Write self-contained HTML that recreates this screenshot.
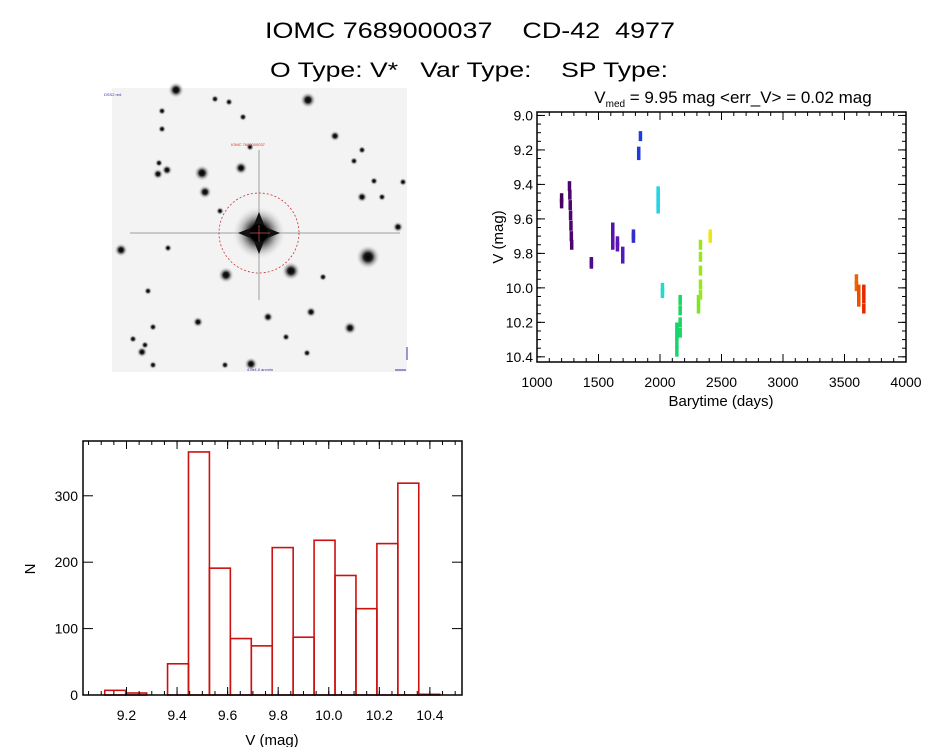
<!DOCTYPE html>
<html><head><meta charset="utf-8"><style>
html,body{margin:0;padding:0;background:#fff;}
svg{display:block;font-family:"Liberation Sans",sans-serif;}
text{white-space:pre;}
</style></head><body>
<svg id="fig" width="944" height="747" viewBox="0 0 944 747" xmlns="http://www.w3.org/2000/svg">
<text x="470" y="38" text-anchor="middle" font-size="22" textLength="410" lengthAdjust="spacingAndGlyphs">IOMC 7689000037    CD-42  4977</text>
<text x="469" y="77" text-anchor="middle" font-size="21" textLength="398" lengthAdjust="spacingAndGlyphs">O Type: V*   Var Type:    SP Type:</text>
<g id="img"></g>
<g id="lc"></g>
<g id="hist"></g>
</svg>
<script>
// ---- light curve data ----
const lcTimes = [1198,1198,1262,1265,1268,1271,1274,1277,1280,1440,1440,1614,1614,1614,1652,1652,1695,1695,1782,1782,1825,1825,1839,1983,1983,1983,1983,2018,2018,2135,2135,2135,2135,2162,2162,2162,2162,2311,2311,2327,2327,2327,2327,2327,2406,2406,3595,3595,3614,3614,3614,3655,3655,3655];
const lcMags  = [9.48,9.51,9.41,9.46,9.52,9.58,9.64,9.70,9.75,9.85,9.86,9.65,9.70,9.75,9.73,9.76,9.79,9.83,9.69,9.71,9.21,9.23,9.12,9.44,9.47,9.51,9.54,10.0,10.03,10.23,10.27,10.32,10.37,10.07,10.13,10.20,10.26,10.07,10.12,9.75,9.82,9.90,9.98,10.04,9.69,9.71,9.95,9.99,10.01,10.05,10.08,10.01,10.06,10.12];
const lcXTicks = [1000,1500,2000,2500,3000,3500,4000];
const lcYTicks = [9.0,9.2,9.4,9.6,9.8,10.0,10.2,10.4];
const lcYLabels = ["9.0","9.2","9.4","9.6","9.8","10.0","10.2","10.4"];
// ---- histogram data ----
const histStart = 9.114;
const histWidth = 0.0828;
const histCounts = [7,3,0,47,366,191,85,74,222,87,233,180,130,228,319,1];
const histXTicks = [9.2,9.4,9.6,9.8,10.0,10.2,10.4];
const histXLabels = ["9.2","9.4","9.6","9.8","10.0","10.2","10.4"];
const histYTicks = [0,100,200,300];

const NS="http://www.w3.org/2000/svg";
function mk(tag,attrs,parent,text){const e=document.createElementNS(NS,tag);for(const k in attrs)e.setAttribute(k,attrs[k]);if(text!==undefined)e.textContent=text;parent.appendChild(e);return e;}

// ---------- sky image ----------
(function(){
  const g=document.getElementById('img');
  const bg=mk('rect',{x:112,y:88,width:295,height:284,fill:'#f3f3f3'},g);
  
  
  const defs=mk('defs',{},g);
  const rg=mk('radialGradient',{id:'star'},defs);
  mk('stop',{offset:'0%','stop-color':'#000','stop-opacity':'1'},rg);
  mk('stop',{offset:'35%','stop-color':'#111','stop-opacity':'0.95'},rg);
  mk('stop',{offset:'70%','stop-color':'#777','stop-opacity':'0.4'},rg);
  mk('stop',{offset:'100%','stop-color':'#ccc','stop-opacity':'0'},rg);
  const stars=[[176,90,6],[215,99,3],[308,100,6],[229,102,3],[243,117,3],[162,111,3],[162,129,3],[335,136,4],[159,163,3],[158,174,4],[167,170,4],[202,173,6],[241,168,5],[205,192,5],[374,181,3],[354,161,3],[362,150,3],[382,197,3],[362,197,4],[403,182,3],[398,227,4],[121,250,5],[168,248,3],[226,275,6],[291,271,7],[368,257,9],[323,277,3],[148,291,3],[268,317,4],[311,312,4],[198,322,4],[153,327,3],[350,328,5],[145,345,3],[142,352,4],[286,337,3],[307,353,3],[251,364,5],[225,365,3],[153,365,3],[133,339,3],[220,211,3],[250,147,3]];
  stars.forEach(s=>{const c=mk('circle',{cx:s[0],cy:s[1],r:s[2]*1.3,fill:'url(#star)'},g);
    
    });
  mk('line',{x1:130,y1:233,x2:400,y2:233,stroke:'#bbb','stroke-width':1.5},g);
  mk('line',{x1:259,y1:150,x2:259,y2:300,stroke:'#bbb','stroke-width':1.5},g);
  const tgt=mk('circle',{cx:259,cy:233,r:26,fill:'url(#star)'},g);
  
  
  mk('path',{d:'M259 212 L265 227 L280 233 L265 239 L259 254 L253 239 L238 233 L253 227 Z',fill:'#111'},g);
  mk('circle',{cx:259,cy:233,r:9,fill:'#000'},g);
  const ring=mk('circle',{cx:259,cy:233,r:40,fill:'none',stroke:'#c33','stroke-width':0.8,'stroke-dasharray':'2,2'},g);
  
  
  mk('line',{x1:250,y1:233,x2:270,y2:233,stroke:'#c55','stroke-width':0.7},g);
  mk('line',{x1:259,y1:225,x2:259,y2:242,stroke:'#c55','stroke-width':0.7},g);
  mk('text',{x:248,y:146,'font-size':4,fill:'#c33','text-anchor':'middle'},g,'IOMC 7689000037');
  mk('text',{x:104,y:96,'font-size':4,fill:'#33a'},g,'DSS2 red');
  mk('text',{x:260,y:371,'font-size':4,fill:'#33a','text-anchor':'middle'},g,'4.0x4.0 arcmin');
  mk('line',{x1:395,y1:370,x2:406,y2:370,stroke:'#33a','stroke-width':1},g);
  mk('line',{x1:407,y1:347,x2:407,y2:360,stroke:'#33a','stroke-width':1},g);
})();

// ---------- light curve ----------
(function(){
  const g=document.getElementById('lc');
  const L=537,R=906,T=112,B=362;
  const x0=1000,x1=4000,y0=8.98,y1=10.43;
  const X=t=>L+(t-x0)/(x1-x0)*(R-L);
  const Y=v=>T+(v-y0)/(y1-y0)*(B-T);
  const tt=mk('text',{x:733,y:103,'font-size':17,'text-anchor':'middle'},g);
  
  
  mk('tspan',{},tt,'V');
  mk('tspan',{'font-size':10,dy:4},tt,'med');
  mk('tspan',{dy:-4},tt,' = 9.95 mag <err_V> = 0.02 mag');
  const cmap=t=>{const f=Math.min(1,Math.max(0,(t-1150)/(3700-1150)));
    const stops=[[0,[70,0,90]],[0.2,[90,20,180]],[0.27,[30,60,220]],[0.3,[20,140,230]],[0.33,[40,220,230]],[0.38,[20,210,120]],[0.44,[40,230,30]],[0.46,[150,230,30]],[0.49,[240,240,20]],[0.5,[240,190,40]],[0.95,[240,120,0]],[1,[220,0,0]]];
    for(let i=1;i<stops.length;i++){if(f<=stops[i][0]){const a=stops[i-1],b=stops[i];const u=(f-a[0])/(b[0]-a[0]);const c=a[1].map((v,k)=>Math.round(v+(b[1][k]-v)*u));return `rgb(${c})`;}}
    return 'rgb(220,0,0)';};
  lcTimes.forEach((t,i)=>{const r=mk('rect',{x:X(t)-1.5,y:Y(lcMags[i])-5,width:3.5,height:10,fill:cmap(t)},g);
    
    });
  const frame=mk('rect',{x:L,y:T,width:R-L,height:B-T,fill:'none',stroke:'#000','stroke-width':1.5},g);
  
  
  lcXTicks.forEach(t=>{const x=X(t);
    mk('line',{x1:x,y1:B,x2:x,y2:B-8,stroke:'#000'},g);mk('line',{x1:x,y1:T,x2:x,y2:T+8,stroke:'#000'},g);
    const l=mk('text',{x:x,y:B+25,'font-size':14,'text-anchor':'middle'},g,String(t));
    
    });
  for(let t=x0;t<=x1;t+=100){const x=X(t);mk('line',{x1:x,y1:B,x2:x,y2:B-4,stroke:'#000'},g);mk('line',{x1:x,y1:T,x2:x,y2:T+4,stroke:'#000'},g);}
  lcYTicks.forEach((v,i)=>{const y=Y(v);
    mk('line',{x1:L,y1:y,x2:L+8,y2:y,stroke:'#000'},g);mk('line',{x1:R,y1:y,x2:R-8,y2:y,stroke:'#000'},g);
    const l=mk('text',{x:L-4,y:y+5,'font-size':14,'text-anchor':'end'},g,lcYLabels[i]);
    
    });
  for(let v=9.0;v<=10.43;v+=0.05){const y=Y(v);mk('line',{x1:L,y1:y,x2:L+4,y2:y,stroke:'#000'},g);mk('line',{x1:R,y1:y,x2:R-4,y2:y,stroke:'#000'},g);}
  const xt=mk('text',{x:721,y:406,'font-size':15,'text-anchor':'middle'},g,'Barytime (days)');
  
  
  const yt=mk('text',{x:0,y:0,'font-size':15,'text-anchor':'middle',transform:'translate(503,237) rotate(-90)'},g,'V (mag)');
  
  
})();

// ---------- histogram ----------
(function(){
  const g=document.getElementById('hist');
  const L=83,R=462,T=441,B=695;
  const x0=9.028,x1=10.527,ymax=382.5;
  const X=v=>L+(v-x0)/(x1-x0)*(R-L);
  const Y=n=>B-n/ymax*(B-T);
  histCounts.forEach((n,i)=>{const a=X(histStart+i*histWidth),b=X(histStart+(i+1)*histWidth);
    const r=mk('rect',{x:a,y:Y(n),width:b-a,height:B-Y(n),fill:'none',stroke:'#cc1111','stroke-width':1.6},g);
    
    });
  const frame=mk('rect',{x:L,y:T,width:R-L,height:B-T,fill:'none',stroke:'#000','stroke-width':1.5},g);
  
  
  histXTicks.forEach((v,i)=>{const x=X(v);
    mk('line',{x1:x,y1:B,x2:x,y2:B-8,stroke:'#000'},g);mk('line',{x1:x,y1:T,x2:x,y2:T+8,stroke:'#000'},g);
    const l=mk('text',{x:x,y:B+25,'font-size':14,'text-anchor':'middle'},g,histXLabels[i]);
    
    });
  for(let v=9.05;v<=10.52;v+=0.05){const x=X(v);mk('line',{x1:x,y1:B,x2:x,y2:B-4,stroke:'#000'},g);mk('line',{x1:x,y1:T,x2:x,y2:T+4,stroke:'#000'},g);}
  histYTicks.forEach(n=>{const y=Y(n);
    mk('line',{x1:L,y1:y,x2:L+10,y2:y,stroke:'#000'},g);mk('line',{x1:R,y1:y,x2:R-10,y2:y,stroke:'#000'},g);
    const l=mk('text',{x:L-5,y:y+5,'font-size':14,'text-anchor':'end'},g,String(n));
    
    });
  const xt=mk('text',{x:272,y:745,'font-size':15,'text-anchor':'middle'},g,'V (mag)');
  
  
  const yt=mk('text',{x:0,y:0,'font-size':15,'text-anchor':'middle',transform:'translate(35,569) rotate(-90)'},g,'N');
  
  
})();
</script>
</body></html>
